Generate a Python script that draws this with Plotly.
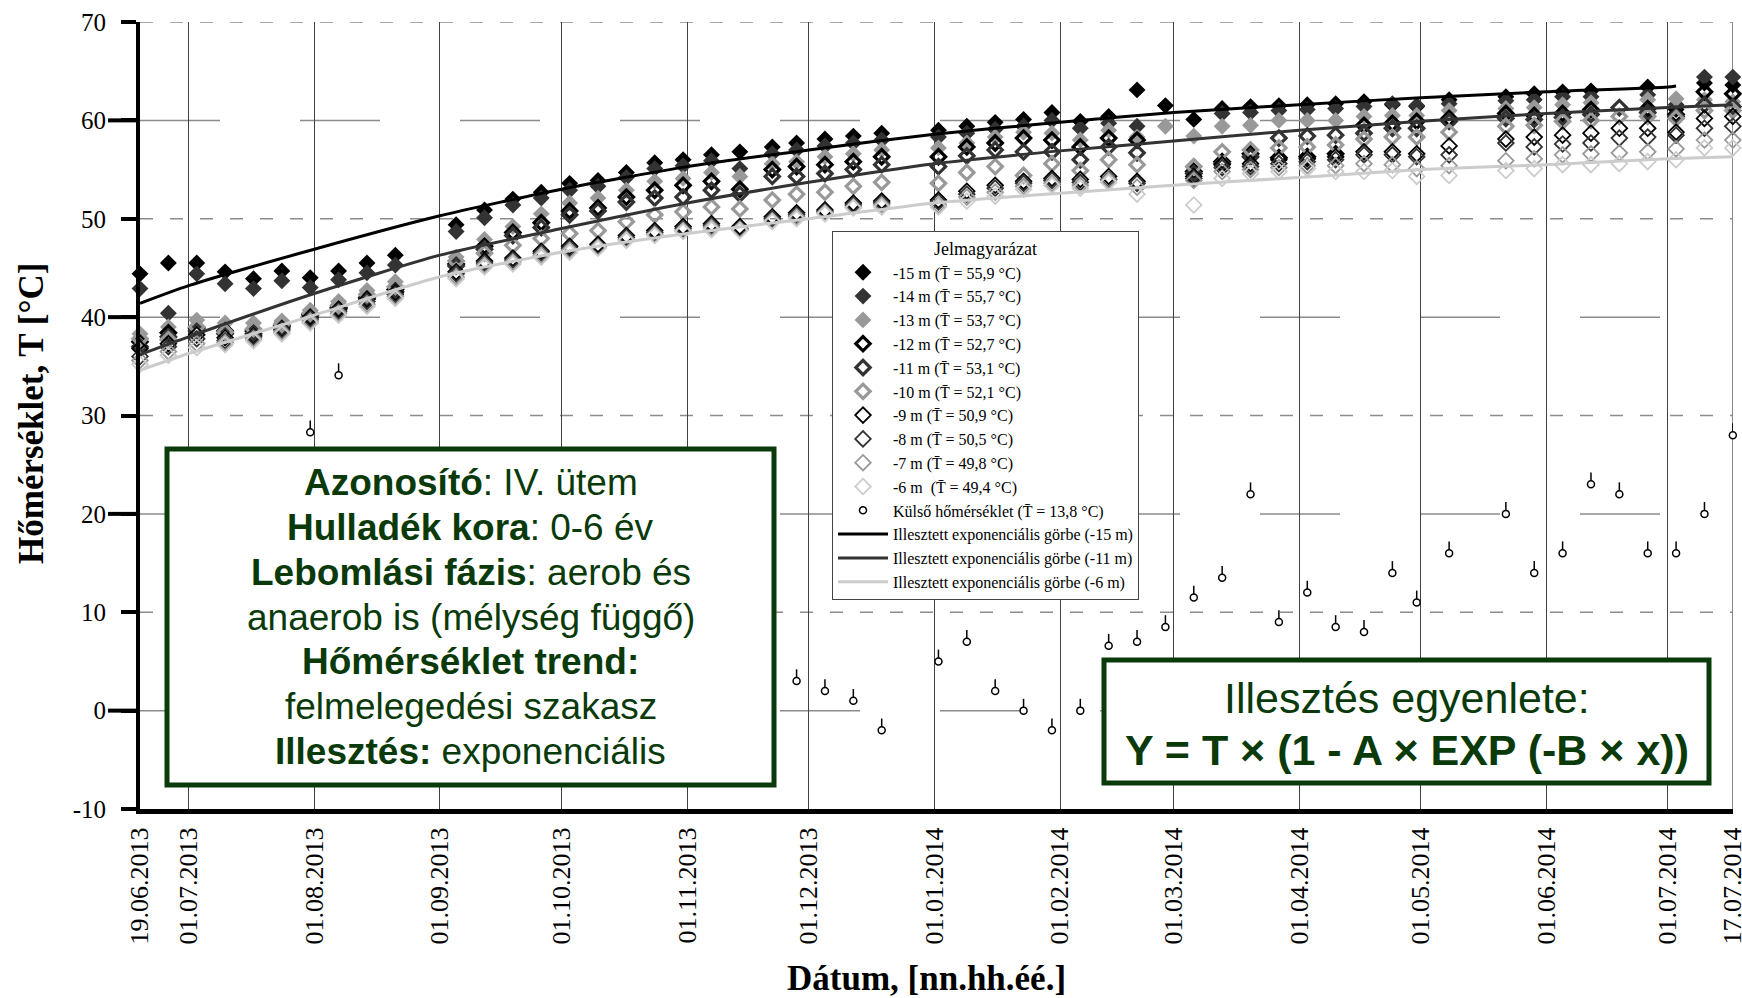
import plotly.graph_objects as go

# ---------------- data ----------------
dates = ["2013-06-19", "2013-06-26", "2013-07-03", "2013-07-10", "2013-07-17", "2013-07-24", "2013-07-31",
         "2013-08-07", "2013-08-14", "2013-08-21",
         "2013-09-05", "2013-09-12", "2013-09-19", "2013-09-26", "2013-10-03", "2013-10-10", "2013-10-17",
         "2013-10-24", "2013-10-31", "2013-11-07", "2013-11-14", "2013-11-22", "2013-11-28", "2013-12-05",
         "2013-12-12", "2013-12-19",
         "2014-01-02", "2014-01-09", "2014-01-16", "2014-01-23", "2014-01-30", "2014-02-06", "2014-02-13",
         "2014-02-20", "2014-02-27", "2014-03-06", "2014-03-13", "2014-03-20", "2014-03-27", "2014-04-03",
         "2014-04-10", "2014-04-17", "2014-04-24", "2014-04-30", "2014-05-08",
         "2014-05-22", "2014-05-29", "2014-06-05", "2014-06-12", "2014-06-19", "2014-06-26", "2014-07-03",
         "2014-07-10", "2014-07-17"]

d15 = [44.4, 45.5, 45.5, 44.6, 43.9, 44.7, 44.0, 44.7, 45.5, 46.3,
       49.4, 50.9, 52.0, 52.7, 53.6, 53.9, 54.7, 55.7, 56.0, 56.5, 56.8, 57.3, 57.7, 58.1, 58.4, 58.7,
       59.0, 59.4, 59.8, 60.1, 60.8, 59.9, 60.4, 63.1, 61.5, 60.1, 61.2, 61.4, 61.5, 61.6, 61.7, 61.9, 61.6, 61.4, 62.1,
       62.4, 62.7, 62.9, 63.0, None, 63.4, 61.1, 63.8, 63.6]
d14 = [42.9, 40.4, 44.4, 43.4, 42.9, 43.7, 43.0, 43.8, 44.5, 45.3,
       48.7, 50.1, 51.4, 52.1, 52.9, 53.3, 54.2, 55.1, 55.4, 55.9, 55.1, 56.6, 57.0, 57.4, 57.7, 58.0,
       58.3, 58.7, 59.1, 59.4, 60.0, 59.2, 59.7, 59.4, None, None, 60.7, 60.8, 61.0, 61.1, 61.2, 61.4, 61.7, 61.5, 61.7,
       62.0, 62.1, 62.4, 62.4, None, 62.6, 61.6, 64.4, 64.4]
d13 = [38.3, 39.0, 39.7, 39.4, 39.4, 39.6, 40.7, 41.6, 42.7, 43.6,
       46.1, 47.9, 49.2, 50.5, 51.6, 52.1, 52.9, 53.8, 54.1, 54.7, 54.3, 55.6, 55.8, 56.3, 56.6, 57.0,
       57.2, 57.7, 58.3, 58.8, 58.7, 58.0, 59.0, 58.3, 59.4, 58.4, 59.4, 59.5, 60.0, 60.0, 60.0, 60.4, 60.5, 60.5, 61.0,
       61.2, 61.3, 61.6, 61.8, None, 62.1, 62.2, 62.1, 61.9]
d12 = [37.5, 38.4, 38.9, 38.6, 38.6, 39.1, 40.3, 41.0, 42.0, 42.8,
       45.4, 47.2, 48.6, 49.6, 50.8, 51.1, 52.2, 52.9, 53.4, 53.8, 53.0, 55.0, 55.3, 55.5, 55.8, 56.3,
       56.3, 57.3, 57.7, 58.2, 58.0, 57.3, 58.2, 58.0, None, 54.8, 55.8, 56.6, 56.2, 56.3, 56.6, 59.5, 59.7, 59.9, 60.2,
       60.7, 60.5, 60.7, 61.1, None, 61.2, 60.6, 62.9, 62.7]
d11 = [37.0, 38.0, 38.6, 38.3, 38.3, 39.0, 40.2, 40.9, 41.9, 42.6,
       45.2, 46.9, 48.3, 49.1, 50.4, 50.8, 51.7, 52.1, 52.2, 52.9, 52.5, 54.3, 54.3, 54.6, 55.0, 55.5,
       55.3, 56.4, 57.0, 56.8, 56.8, 56.0, 57.3, 56.7, None, 54.6, 55.6, 56.3, 58.2, 58.4, 58.5, 58.7, 59.2, 59.2, 59.9,
       60.2, 60.1, 60.3, 60.6, 61.3, 60.8, 60.4, 61.6, 61.4]
d10 = [37.8, 37.7, 39.0, 38.5, 38.8, 39.3, 40.4, 41.2, 42.3, 43.1,
       45.7, 46.5, 47.3, 48.0, 48.5, 48.8, 49.7, 50.4, 50.7, 51.2, 51.0, 51.9, 52.5, 52.7, 53.3, 53.7,
       53.6, 54.7, 55.3, 54.4, 55.6, 54.9, 56.0, 55.5, None, 55.3, 56.8, 57.0, 57.2, 57.3, 57.5, 58.1, 58.3, 58.3, 58.8,
       59.4, 59.5, 59.9, 60.0, 60.4, 60.4, 60.2, 61.0, 61.0]
d9 = [36.8, 37.3, 38.2, 37.9, 38.1, 38.8, 40.0, 40.8, 41.8, 42.5,
      44.6, 45.7, 46.0, 46.7, 47.2, 47.4, 48.3, 48.8, 49.2, 49.5, 49.2, 50.2, 50.6, 50.9, 51.6, 51.8,
      51.9, 52.8, 53.4, 53.8, 54.1, 54.0, 54.3, 53.8, None, 54.3, 55.5, 55.6, 56.0, 56.1, 56.3, 56.8, 56.8, 56.6, 57.4,
      58.1, 58.3, 58.5, 58.7, 59.2, 59.2, 58.8, 60.2, 60.4]
d8 = [36.0, 37.0, 37.8, 37.6, 38.0, 38.7, 39.8, 40.6, 41.6, 42.3,
      44.4, 45.5, 45.8, 46.5, 47.0, 47.2, 48.1, 48.6, 49.0, 49.3, 49.0, 50.0, 50.4, 50.7, 51.4, 51.6,
      51.7, 52.5, 53.1, 53.6, 53.9, 53.7, 54.0, 53.6, None, 54.1, 55.2, 55.3, 55.6, 55.8, 56.0, 56.5, 56.5, 56.3, 56.5,
      57.7, 57.3, 57.6, 57.7, 58.2, 58.3, 58.5, 59.2, 59.4]
d7 = [35.6, 36.5, 37.3, 37.4, 37.8, 38.5, 39.6, 40.4, 41.3, 42.1,
      44.1, 45.3, 45.6, 46.3, 46.8, 47.1, 47.9, 48.4, 48.8, 49.1, 48.9, 49.8, 50.2, 50.6, 51.2, 51.4,
      51.4, 52.2, 52.7, 53.3, 53.6, 53.4, 53.9, 53.2, None, 53.9, 54.8, 55.0, 55.2, 55.4, 55.4, 55.6, 55.5, 55.1, 55.4,
      55.9, 56.1, 56.5, 56.6, 56.7, 56.8, 57.1, 58.0, 58.0]
d6 = [35.2, 36.1, 36.9, 37.2, 37.6, 38.3, 39.4, 40.2, 41.1, 41.9,
      43.9, 45.1, 45.4, 46.1, 46.6, 47.0, 47.8, 48.3, 48.7, 48.9, 48.8, 49.7, 50.0, 50.5, 51.1, 51.2,
      51.2, 51.8, 52.3, 53.0, 53.4, 53.1, 53.7, 52.5, None, 51.4, 54.1, 54.6, 54.8, 55.1, 54.8, 54.8, 54.9, 54.3, 54.4,
      54.9, 55.1, 55.5, 55.5, 55.6, 55.8, 56.0, 57.2, 57.2]

ext_dates = ["2013-07-31", "2013-08-07", "2013-11-28", "2013-12-05", "2013-12-12", "2013-12-19",
             "2014-01-02", "2014-01-09", "2014-01-16", "2014-01-23", "2014-01-30", "2014-02-06", "2014-02-13",
             "2014-02-20", "2014-02-27", "2014-03-06", "2014-03-13", "2014-03-20", "2014-03-27", "2014-04-03",
             "2014-04-10", "2014-04-17", "2014-04-24", "2014-04-30", "2014-05-08", "2014-05-22", "2014-05-29",
             "2014-06-05", "2014-06-12", "2014-06-19", "2014-06-26", "2014-07-03", "2014-07-10", "2014-07-17"]
ext_temp = [28.3, 34.1, 3.0, 2.0, 1.0, -2.0, 5.0, 7.0, 2.0, 0.0, -2.0, 0.0, 6.6, 7.0, 8.5, 11.5, 13.5, 22.0,
            9.0, 12.0, 8.5, 8.0, 14.0, 11.0, 16.0, 20.0, 14.0, 16.0, 23.0, 22.0, 16.0, 16.0, 20.0, 28.0]

curve_dates = ["2013-06-19", "2013-07-01", "2013-08-01", "2013-09-01", "2013-10-01", "2013-11-01", "2013-12-01",
               "2014-01-01", "2014-02-01", "2014-03-01", "2014-04-01", "2014-05-01", "2014-06-01", "2014-07-01",
               "2014-07-17"]
curve15_dates = curve_dates[:-1] + ["2014-07-03"]
c15 = [41.4, 43.2, 46.9, 50.3, 53.0, 55.3, 57.0, 58.6, 59.8, 60.8, 61.6, 62.3, 62.9, 63.4, 63.5]
c11 = [36.2, 38.0, 42.4, 46.3, 49.0, 51.6, 53.7, 55.6, 56.9, 57.9, 59.0, 59.9, 60.7, 61.3, 61.6]
c6 = [34.6, 36.3, 40.2, 44.1, 46.6, 48.5, 50.0, 51.6, 52.6, 53.4, 54.2, 55.0, 55.5, 56.1, 56.3]

tick_dates = ["2013-06-19", "2013-07-01", "2013-08-01", "2013-09-01", "2013-10-01", "2013-11-01", "2013-12-01",
              "2014-01-01", "2014-02-01", "2014-03-01", "2014-04-01", "2014-05-01", "2014-06-01", "2014-07-01",
              "2014-07-17"]
tick_text = ["19.06.2013", "01.07.2013", "01.08.2013", "01.09.2013", "01.10.2013", "01.11.2013", "01.12.2013",
             "01.01.2014", "01.02.2014", "01.03.2014", "01.04.2014", "01.05.2014", "01.06.2014", "01.07.2014",
             "17.07.2014"]
y_ticks = [-10, 0, 10, 20, 30, 40, 50, 60, 70]
y_text = ["-10", "0", "10", "20", "30", "40", "50", "60", "70"]

names = ["-15 m (T̄ = 55,9 °C)", "-14 m (T̄ = 55,7 °C)", "-13 m (T̄ = 53,7 °C)", "-12 m (T̄ = 52,7 °C)",
         "-11 m (T̄ = 53,1 °C)", "-10 m (T̄ = 52,1 °C)", "-9 m (T̄ = 50,9 °C)", "-8 m (T̄ = 50,5 °C)",
         "-7 m (T̄ = 49,8 °C)", "-6 m\u00a0 (T̄ = 49,4 °C)"]
series = [d15, d14, d13, d12, d11, d10, d9, d8, d7, d6]

# ---------------- styles ----------------
styles = [
    ("diamond", "#000000", 13, 0), ("diamond", "#333333", 13, 0), ("diamond", "#999999", 13, 0),
    ("diamond-open", "#000000", 11, 3.2), ("diamond-open", "#333333", 11, 3.2), ("diamond-open", "#999999", 11, 3.2),
    ("diamond-open", "#000000", 12, 1.8), ("diamond-open", "#333333", 12, 1.8), ("diamond-open", "#999999", 12, 1.8),
    ("diamond-open", "#cccccc", 12, 1.8),
]

W, H = 1742, 998
L, R, T, B = 140, 9, 22, 189
PW, PH = W - L - R, H - T - B


def xp(px):
    return (px - L) / PW


def yp(py):
    return (H - B - py) / PH


SERIF = "Liberation Serif"
SANS = "Liberation Sans"
GREEN = "#0a3a0a"

fig = go.Figure()

for name, vals, (sym, col, size, lw) in zip(names, series, styles):
    if lw == 0:
        mk = dict(symbol=sym, color=col, size=size, line=dict(width=0))
    else:
        mk = dict(symbol=sym, color=col, size=size, line=dict(width=lw, color=col))
    fig.add_trace(go.Scatter(x=dates, y=vals, mode="markers", name=name, marker=mk, cliponaxis=False))

fig.add_trace(go.Scatter(
    x=ext_dates, y=ext_temp, mode="markers", name="Külső hőmérséklet (T̄ = 13,8 °C)",
    marker=dict(symbol="circle", size=7, color="white", line=dict(color="black", width=1.5)),
    error_y=dict(type="constant", value=1.2, valueminus=0, symmetric=False, width=0, thickness=1.5,
                 color="black"),
    cliponaxis=False))

for cname, cx, cy, ccol in [("Illesztett exponenciális görbe (-15 m)", curve15_dates, c15, "#000000"),
                            ("Illesztett exponenciális görbe (-11 m)", curve_dates, c11, "#333333"),
                            ("Illesztett exponenciális görbe (-6 m)", curve_dates, c6, "#cccccc")]:
    fig.add_trace(go.Scatter(x=cx, y=cy, mode="lines", name=cname,
                             line=dict(color=ccol, width=3, shape="spline", smoothing=0.6)))

shapes = []
for v in [70, 50, 30, 10]:
    shapes.append(dict(type="line", xref="paper", yref="y", x0=0, x1=1, y0=v, y1=v, layer="below",
                       line=dict(color="#8c8c8c", width=1.5, dash="13px,17px")))
for v in [60, 40, 20, 0]:
    shapes.append(dict(type="line", xref="paper", yref="y", x0=0, x1=1, y0=v, y1=v, layer="below",
                       line=dict(color="#8c8c8c", width=1.5, dash="80px,80px")))
# right-edge grid line at last date
shapes.append(dict(type="line", xref="x", yref="paper", x0=tick_dates[-1], x1=tick_dates[-1], y0=0, y1=1,
                   layer="below", line=dict(color="#808080", width=1.5)))
for v in [60, 40, 20, 0]:
    shapes.append(dict(type="line", xref="paper", yref="y", x0=xp(108), x1=xp(140), y0=v, y1=v,
                       layer="above", line=dict(color="black", width=4)))
shapes.append(dict(type="rect", xref="paper", yref="paper", x0=xp(167), x1=xp(774), y0=yp(785), y1=yp(449),
                   fillcolor="white", line=dict(color=GREEN, width=5), layer="above"))
shapes.append(dict(type="rect", xref="paper", yref="paper", x0=xp(1104), x1=xp(1709), y0=yp(783), y1=yp(660),
                   fillcolor="white", line=dict(color=GREEN, width=5), layer="above"))

annotations = []
left_lines = ["<b>Azonosító</b>: IV. ütem", "<b>Hulladék kora</b>: 0-6 év", "<b>Lebomlási fázis</b>: aerob és",
              "anaerob is (mélység függő)", "<b>Hőmérséklet trend:</b>", "felmelegedési szakasz",
              "<b>Illesztés:</b> exponenciális"]
left_y = [482, 527, 572, 617, 661, 706, 751]
for txt, py in zip(left_lines, left_y):
    annotations.append(dict(text=txt, xref="paper", yref="paper", x=xp(470.5), y=yp(py), showarrow=False,
                            xanchor="center", yanchor="middle", font=dict(family=SANS, size=37, color=GREEN)))
for txt, py in [("Illesztés egyenlete:", 698), ("<b>Y = T × (1 - A × EXP (-B × x))</b>", 750)]:
    annotations.append(dict(text=txt, xref="paper", yref="paper", x=xp(1406.5), y=yp(py), showarrow=False,
                            xanchor="center", yanchor="middle", font=dict(family=SANS, size=43, color=GREEN)))
annotations.append(dict(text="<b>Hőmérséklet, T [°C]</b>", xref="paper", yref="paper", x=xp(31), y=yp(413),
                        textangle=-90, showarrow=False, xanchor="center", yanchor="middle",
                        font=dict(family=SERIF, size=35, color="black")))
annotations.append(dict(text="<b>Dátum, [nn.hh.éé.]</b>", xref="paper", yref="paper", x=xp(926), y=yp(978),
                        showarrow=False, xanchor="center", yanchor="middle",
                        font=dict(family=SERIF, size=35, color="black")))

fig.update_layout(
    width=W, height=H, autosize=False,
    margin=dict(l=L, r=R, t=T, b=B, autoexpand=False),
    paper_bgcolor="white", plot_bgcolor="white",
    font=dict(family=SERIF, color="black"),
    shapes=shapes, annotations=annotations,
    legend=dict(x=xp(832), y=yp(231), xanchor="left", yanchor="top", bgcolor="white",
                bordercolor="#444444", borderwidth=1, font=dict(family=SERIF, size=16, color="black"),
                title=dict(text="Jelmagyarázat", side="top center", font=dict(family=SERIF, size=18)),
                itemwidth=50, tracegroupgap=0),
    xaxis=dict(type="date", range=["2013-06-19", "2014-07-17 01:00"], tickmode="array", tickvals=tick_dates,
               ticktext=tick_text, tickangle=-90, ticks="", showgrid=True, gridcolor="#404040", gridwidth=1,
               showline=True, linecolor="black", linewidth=5, zeroline=False, automargin=False,
               ticklabeloverflow="allow",
               tickfont=dict(family=SERIF, size=26, color="black"), ticklabelstandoff=3),
    yaxis=dict(range=[-10, 70], tickmode="array", tickvals=y_ticks, ticktext=y_text,
               ticks="outside", ticklen=15, tickwidth=4, tickcolor="black", showgrid=False, zeroline=False,
               showline=True, linecolor="black", linewidth=4, automargin=False,
               tickfont=dict(family=SERIF, size=25, color="black"), ticklabelstandoff=10),
    showlegend=True,
)

fig.write_html("out.html", config={"displayModeBar": False},
               post_script="document.body.style.margin='0';document.body.style.padding='0';"
                           "document.body.style.overflow='hidden';")
